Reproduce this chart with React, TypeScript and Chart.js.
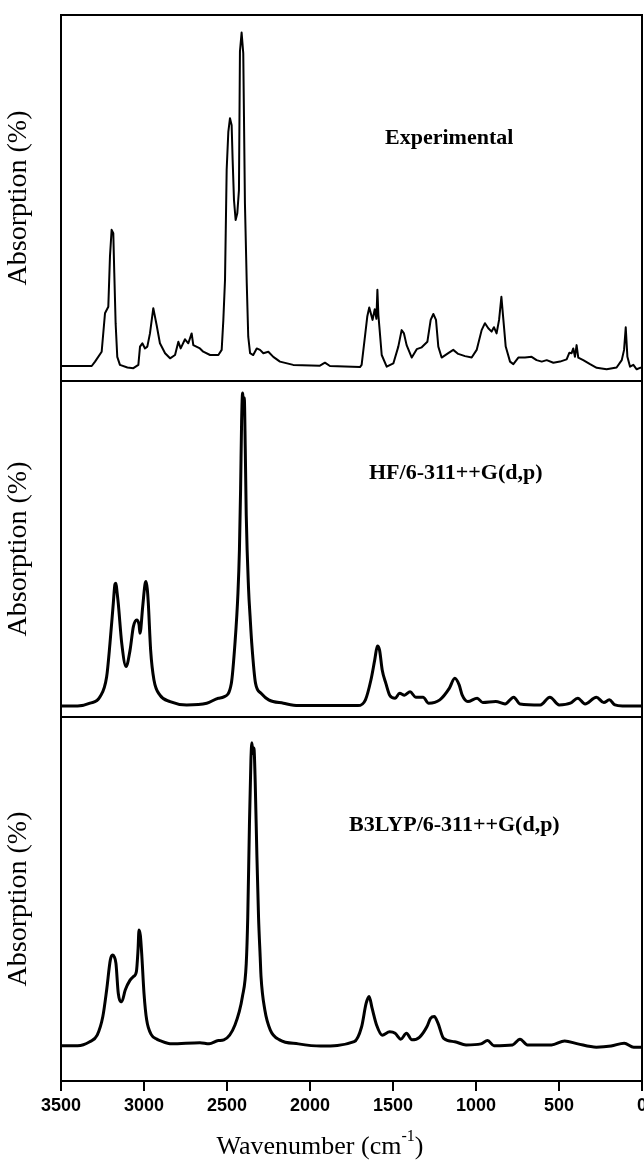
import React, { useEffect, useRef } from 'react';
import { Chart, registerables } from 'chart.js';

Chart.register(...registerables);

// ---------- data ----------
const xTickValues = [3500, 3000, 2500, 2000, 1500, 1000, 500, 0];

const expWavenumber = [3500, 3400, 3315, 3295, 3255, 3235, 3215, 3205, 3195, 3185, 3179, 3171, 3161, 3145, 3100, 3064, 3034, 3024, 3010, 2994, 2980, 2964, 2944, 2924, 2904, 2873, 2843, 2813, 2793, 2779, 2753, 2733, 2713, 2703, 2663, 2643, 2602, 2552, 2532, 2522, 2512, 2502, 2492, 2482, 2472, 2466, 2458, 2448, 2438, 2428, 2422, 2412, 2402, 2392, 2381, 2372, 2361, 2342, 2321, 2301, 2281, 2251, 2221, 2181, 2101, 1940, 1910, 1880, 1699, 1689, 1669, 1655, 1643, 1623, 1610, 1600, 1594, 1588, 1582, 1568, 1538, 1498, 1468, 1448, 1434, 1418, 1387, 1357, 1327, 1293, 1273, 1257, 1241, 1227, 1207, 1167, 1137, 1107, 1066, 1026, 996, 966, 946, 926, 906, 892, 876, 861, 847, 835, 821, 795, 775, 745, 705, 665, 635, 604, 574, 534, 494, 454, 438, 424, 414, 404, 394, 384, 354, 313, 273, 213, 153, 122, 108, 98, 88, 72, 52, 32, 12, 0];
const expAbsorption = [4.1, 4.1, 4.1, 5.3, 8.0, 18.5, 20.3, 34.0, 41.3, 40.4, 29.5, 15.8, 6.6, 4.4, 3.7, 3.5, 4.4, 9.4, 10.3, 8.9, 9.4, 13.0, 19.9, 15.3, 10.3, 7.6, 6.2, 7.1, 10.7, 8.9, 11.4, 10.3, 13.0, 9.8, 8.9, 8.0, 7.1, 7.1, 8.5, 16.7, 27.6, 57.7, 68.1, 71.8, 69.9, 60.4, 49.5, 44.0, 45.8, 52.2, 90.0, 95.2, 89.5, 48.6, 26.7, 12.1, 7.6, 7.1, 8.9, 8.5, 7.6, 8.0, 6.6, 5.3, 4.4, 4.2, 5.0, 4.1, 3.8, 4.4, 12.1, 17.6, 20.1, 16.7, 19.6, 17.0, 24.9, 18.0, 14.8, 7.1, 3.9, 4.8, 9.4, 13.9, 13.0, 9.8, 6.4, 8.7, 9.2, 10.7, 16.7, 18.3, 16.7, 9.4, 6.4, 7.6, 8.5, 7.4, 6.8, 6.4, 8.5, 13.9, 15.8, 14.4, 13.5, 14.7, 13.0, 16.7, 23.0, 16.7, 9.4, 5.3, 4.6, 6.4, 6.4, 6.6, 5.7, 5.3, 5.7, 5.0, 5.3, 5.9, 7.7, 7.6, 8.9, 6.6, 9.8, 6.4, 5.7, 4.6, 3.6, 3.2, 3.7, 5.7, 8.5, 14.7, 6.6, 3.9, 4.4, 3.2, 3.6, 3.6];

const hfWavenumber = [3500, 3400, 3325, 3265, 3225, 3205, 3185, 3175, 3169, 3162, 3155, 3134, 3108, 3084, 3064, 3044, 3030, 3024, 3008, 2994, 2988, 2980, 2974, 2960, 2940, 2904, 2843, 2743, 2622, 2552, 2519, 2474, 2452, 2434, 2425, 2418, 2412, 2406, 2401, 2396, 2390, 2384, 2370, 2361, 2351, 2328, 2295, 2249, 2160, 2070, 1711, 1666, 1633, 1610, 1594, 1581, 1565, 1543, 1520, 1487, 1460, 1431, 1397, 1363, 1319, 1285, 1218, 1161, 1128, 1101, 1083, 1049, 993, 959, 881, 825, 773, 735, 612, 555, 499, 432, 387, 343, 275, 230, 197, 163, 118, 0];
const hfAbsorption = [3.3, 3.3, 4.1, 6.0, 12.0, 21.9, 33.8, 39.5, 39.8, 37.0, 33.8, 21.9, 15.0, 19.9, 26.9, 28.9, 27.5, 24.9, 32.8, 39.5, 40.3, 38.0, 33.8, 19.9, 11.0, 6.5, 4.6, 3.6, 4.1, 5.6, 6.0, 10.0, 21.9, 36.9, 50.0, 68.0, 88.0, 96.4, 92.0, 95.0, 80.0, 60.0, 38.0, 30.0, 22.0, 10.0, 7.1, 5.1, 4.1, 3.4, 3.4, 5.1, 11.0, 17.0, 21.1, 19.9, 14.0, 10.0, 6.5, 5.6, 7.1, 6.5, 7.5, 5.9, 5.9, 4.1, 5.1, 8.5, 11.5, 9.5, 6.5, 4.6, 5.6, 4.3, 4.6, 3.9, 5.9, 3.9, 3.6, 5.9, 3.6, 4.1, 5.6, 3.9, 5.9, 4.3, 5.1, 3.6, 3.3, 3.3];

const b3Wavenumber = [3500, 3400, 3327, 3282, 3248, 3225, 3203, 3190, 3180, 3169, 3155, 3140, 3134, 3113, 3084, 3064, 3046, 3036, 3030, 3022, 3014, 3000, 2984, 2954, 2923, 2904, 2833, 2663, 2608, 2552, 2519, 2452, 2407, 2384, 2375, 2365, 2356, 2350, 2344, 2338, 2330, 2320, 2310, 2300, 2295, 2272, 2239, 2183, 2070, 1936, 1734, 1689, 1662, 1644, 1626, 1599, 1565, 1520, 1487, 1453, 1419, 1386, 1341, 1296, 1274, 1251, 1229, 1195, 1128, 1060, 970, 930, 892, 780, 735, 690, 545, 466, 387, 275, 186, 107, 50, 0];
const b3Absorption = [9.7, 9.7, 10.8, 12.6, 17.7, 25.0, 33.2, 34.6, 34.2, 32.3, 24.1, 21.8, 21.8, 25.0, 27.7, 28.7, 30.0, 36.0, 41.5, 40.0, 35.1, 24.1, 16.8, 12.6, 11.5, 11.1, 10.2, 10.5, 10.2, 11.1, 11.3, 15.4, 23.2, 32.3, 45.0, 70.0, 88.0, 92.9, 90.0, 91.5, 82.0, 62.0, 45.0, 34.0, 28.7, 19.5, 14.0, 11.3, 10.2, 9.6, 10.8, 14.9, 21.3, 23.2, 20.0, 15.4, 12.6, 13.5, 13.1, 11.5, 13.1, 11.3, 12.0, 14.9, 17.2, 17.7, 15.9, 11.7, 10.8, 9.9, 10.2, 11.1, 9.7, 9.9, 11.5, 9.9, 9.9, 11.0, 10.2, 9.3, 9.6, 10.4, 9.3, 9.3];

const panelLabels = ['Experimental', 'HF/6-311++G(d,p)', 'B3LYP/6-311++G(d,p)'];
const yTitle = 'Absorption (%)';
const xTitleMain = 'Wavenumber (cm';
const xTitleSup = '-1';

// ---------- plugins ----------
const framePlugin = {
  id: 'frame',
  afterDraw(chart: any) {
    const { ctx, chartArea: a } = chart;
    ctx.save();
    ctx.strokeStyle = '#000';
    ctx.lineWidth = 2;
    ctx.strokeRect(a.left, a.top, a.right - a.left, a.bottom - a.top);
    ctx.restore();
  },
};

type Part = { t: string; size: number; bold?: boolean; dy?: number; family?: string };
type Item = { parts: Part[]; x: number; y: number; anchor: 'left' | 'center' };

const textPlugin = {
  id: 'panelText',
  afterDraw(chart: any, _args: any, opts: any) {
    const items: Item[] = (opts && opts.items) || [];
    const ctx = chart.ctx;
    ctx.save();
    ctx.fillStyle = '#000';
    ctx.textBaseline = 'middle';
    ctx.textAlign = 'left';
    for (const it of items) {
      const fonts = it.parts.map(
        (p) => `${p.bold ? 'bold ' : ''}${p.size}px ${p.family || '"Liberation Serif", "Times New Roman", serif'}`
      );
      const widths = it.parts.map((p, i) => {
        ctx.font = fonts[i];
        return ctx.measureText(p.t).width;
      });
      const total = widths.reduce((s, w) => s + w, 0);
      let x = it.anchor === 'center' ? it.x - total / 2 : it.x;
      it.parts.forEach((p, i) => {
        ctx.font = fonts[i];
        ctx.fillText(p.t, x, it.y + (p.dy || 0));
        x += widths[i];
      });
    }
    ctx.restore();
  },
};

function pts(xs: number[], ys: number[]) {
  return xs.map((x, i) => ({ x, y: ys[i] }));
}

type PanelOpts = {
  xs: number[];
  ys: number[];
  lineWidth: number;
  smooth: boolean;
  showX: boolean;
  padTop: number;
  padBottom: number;
  items: Item[];
};

function makeConfig(o: PanelOpts): any {
  return {
    type: 'line',
    data: {
      datasets: [
        {
          data: pts(o.xs, o.ys),
          borderColor: '#000',
          borderWidth: o.lineWidth,
          pointRadius: 0,
          fill: false,
          tension: o.smooth ? 0.4 : 0,
          cubicInterpolationMode: o.smooth ? 'monotone' : 'default',
          borderJoinStyle: 'round',
        },
      ],
    },
    options: {
      animation: false,
      responsive: false,
      devicePixelRatio: 1,
      events: [],
      layout: { padding: { top: o.padTop, bottom: o.padBottom, left: 0, right: 2 } },
      plugins: {
        legend: { display: false },
        tooltip: { enabled: false },
        title: { display: false },
        panelText: { items: o.items },
      },
      scales: {
        x: {
          type: 'linear',
          min: 0,
          max: 3500,
          reverse: true,
          display: o.showX,
          afterFit: (s: any) => {
            if (o.showX) {
              s.height = 82;
              s.paddingLeft = 0;
              s.paddingRight = 0;
            }
          },
          afterBuildTicks: (s: any) => {
            s.ticks = xTickValues.map((v) => ({ value: v }));
          },
          ticks: {
            color: '#000',
            padding: 4,
            maxRotation: 0,
            autoSkip: false,
            font: { family: '"Liberation Sans", Arial, sans-serif', size: 18, weight: 'bold' },
            callback: (v: any) => String(v),
          },
          grid: {
            display: true,
            drawOnChartArea: false,
            drawTicks: true,
            tickLength: 10,
            color: '#000',
            lineWidth: 2,
          },
          border: { display: true, color: '#000', width: 2 },
        },
        y: {
          min: 0,
          max: 100,
          afterFit: (s: any) => {
            s.width = 61;
          },
          ticks: { display: false },
          grid: { display: false },
          border: { display: false },
          title: {
            display: true,
            text: yTitle,
            color: '#000',
            font: { family: '"Liberation Serif", "Times New Roman", serif', size: 28 },
            padding: { top: 2, bottom: 0 },
          },
        },
      },
    },
    plugins: [framePlugin, textPlugin],
  };
}

const W = 644;
const panels: { top: number; height: number; cfg: PanelOpts }[] = [
  {
    top: 0,
    height: 384,
    cfg: {
      xs: expWavenumber,
      ys: expAbsorption,
      lineWidth: 2,
      smooth: false,
      showX: false,
      padTop: 15,
      padBottom: 3,
      items: [{ parts: [{ t: panelLabels[0], size: 22, bold: true }], x: 385, y: 138, anchor: 'left' }],
    },
  },
  {
    top: 378,
    height: 343,
    cfg: {
      xs: hfWavenumber,
      ys: hfAbsorption,
      lineWidth: 3,
      smooth: true,
      showX: false,
      padTop: 3,
      padBottom: 4,
      items: [{ parts: [{ t: panelLabels[1], size: 22, bold: true }], x: 369, y: 473 - 378, anchor: 'left' }],
    },
  },
  {
    top: 714,
    height: 449,
    cfg: {
      xs: b3Wavenumber,
      ys: b3Absorption,
      lineWidth: 3,
      smooth: true,
      showX: true,
      padTop: 3,
      padBottom: 0,
      items: [
        { parts: [{ t: panelLabels[2], size: 22, bold: true }], x: 349, y: 825 - 714, anchor: 'left' },
        {
          parts: [
            { t: xTitleMain, size: 26 },
            { t: xTitleSup, size: 16, dy: -10 },
            { t: ')', size: 26 },
          ],
          x: 320,
          y: 1147 - 714,
          anchor: 'center',
        },
      ],
    },
  },
];

function Panel({ top, height, cfg }: { top: number; height: number; cfg: PanelOpts }) {
  const ref = useRef<HTMLCanvasElement | null>(null);
  useEffect(() => {
    if (!ref.current) return;
    const chart = new Chart(ref.current, makeConfig(cfg));
    return () => chart.destroy();
  }, []);
  return (
    <canvas
      ref={ref}
      width={W}
      height={height}
      style={{ position: 'absolute', left: 0, top, width: W, height, display: 'block' }}
    />
  );
}

export default function App() {
  return (
    <div
      style={{
        position: 'fixed',
        left: 0,
        top: 0,
        width: W,
        height: 1163,
        background: '#fff',
        overflow: 'hidden',
      }}
    >
      {panels.map((p, i) => (
        <Panel key={i} top={p.top} height={p.height} cfg={p.cfg} />
      ))}
    </div>
  );
}
